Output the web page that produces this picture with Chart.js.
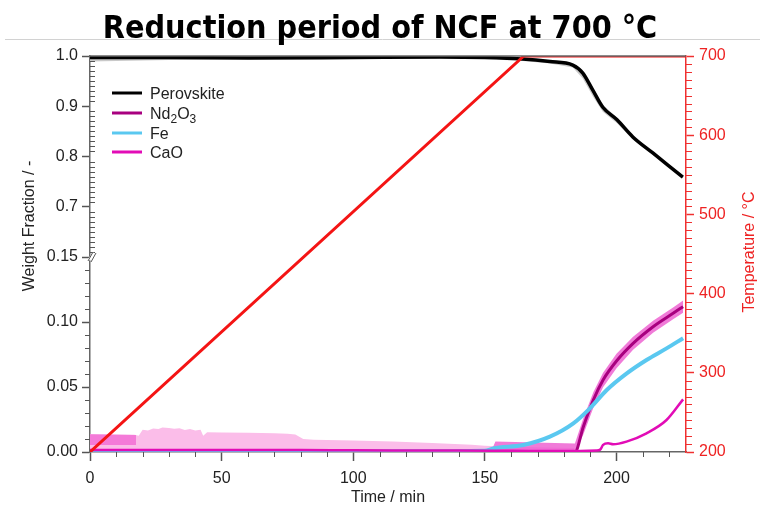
<!DOCTYPE html>
<html>
<head>
<meta charset="utf-8">
<title>Reduction period of NCF at 700 °C</title>
<script src="https://cdn.jsdelivr.net/npm/chart.js@4.4.1/dist/chart.umd.min.js"></script>
<style>
  html, body { margin: 0; padding: 0; background: #fff; }
  canvas { display: block; }
</style>
</head>
<body>
<canvas id="chart" width="760" height="507"></canvas>
<script>
/* ── Data (time in min) ── */

const X_MAX = 226.4;

// furnace temperature, right axis (°C)
const tempTime = [0, 164.8, 226.4];
const tempVals = [200, 700, 700];

// perovskite weight fraction (upper panel)
const perovTime = [0, 30, 60, 100, 132.9, 150, 164.4, 174.7, 183.4, 187.2, 191.0, 194.8, 200.2, 206.2, 213.8, 219.5, 225.2];
const perovVals = [0.997, 0.997, 0.996, 0.997, 0.998, 0.997, 0.994, 0.989, 0.982, 0.966, 0.932, 0.898, 0.873, 0.839, 0.807, 0.783, 0.759];
const perovLow  = [0.989, 0.992, 0.994, 0.995, 0.995, 0.994, 0.990, 0.985, 0.977, 0.955, 0.920, 0.889, 0.866, 0.834, 0.803, 0.780, 0.756];
const perovHigh = [0.999, 0.999, 0.998, 0.999, 1.000, 0.999, 0.996, 0.991, 0.985, 0.972, 0.938, 0.903, 0.877, 0.842, 0.810, 0.786, 0.762];

// Nd2O3
const ndTime = [0, 100, 184.2, 187.4, 191.2, 194.9, 200.0, 206.3, 213.9, 221.5, 225.3];
const ndVals = [0, 0, 0, 0.0195, 0.040, 0.0554, 0.070, 0.0836, 0.0964, 0.1067, 0.1118];
const ndBandTime = [152.5, 154, 184.2, 187.4, 191.2, 194.9, 200.0, 206.3, 213.9, 221.5, 225.3];
const ndBandHigh = [0.001, 0.008, 0.0065, 0.026, 0.046, 0.061, 0.0755, 0.0886, 0.1010, 0.1112, 0.1165];
const ndBandLow  = [0.0005, 0.0005, 0.0005, 0.0135, 0.034, 0.0498, 0.0645, 0.0786, 0.0918, 0.1022, 0.1071];

// Fe
const feTime = [0, 80, 120, 150, 153.2, 164.6, 174.7, 183.6, 189.9, 196.3, 203.9, 211.4, 219.0, 225.3];
const feVals = [0.0004, 0.0004, 0.0005, 0.0009, 0.0028, 0.0054, 0.0118, 0.022, 0.0336, 0.0477, 0.0605, 0.0708, 0.0797, 0.0875];

// CaO
const caoTime = [0, 20, 40, 60, 80, 100, 120, 140, 160, 180, 192.4, 193.8, 194.9, 196.8, 198.7, 203.8, 211.4, 219.0, 225.3];
const caoVals = [0.0015, 0.0016, 0.0016, 0.0015, 0.0016, 0.0013, 0.0012, 0.0011, 0.0009, 0.0007, 0.0012, 0.0018, 0.0054, 0.0067, 0.0060, 0.0080, 0.0144, 0.0246, 0.0405];

// uncertainty of the minor phases before the reduction starts
const paleTime = [0, 17, 18.5, 20, 22, 24, 26, 27.5, 30, 32, 34, 36, 38, 40, 42, 43, 44.5, 50, 60, 70, 75, 78, 81, 85, 100, 115, 130, 145, 150, 160, 184];
const paleVals = [0.0136, 0.0133, 0.0125, 0.0172, 0.0165, 0.0180, 0.0176, 0.0188, 0.0185, 0.0178, 0.0182, 0.0170, 0.0176, 0.0165, 0.0172, 0.0125, 0.0152, 0.0150, 0.0148, 0.0145, 0.0140, 0.0135, 0.0100, 0.0095, 0.0088, 0.0080, 0.0070, 0.0055, 0.0048, 0.0040, 0.0030];
const earlyTime = [0, 17.5];
const earlyHigh = [0.0136, 0.0131];
const earlyLow  = [0.0054, 0.0054];

/* ── Helpers ── */

const pts = (xs, ys) => xs.map((x, i) => ({ x, y: ys[i] }));

const FONT = "'Liberation Sans', Arial, sans-serif";

function lineSet(label, xs, ys, color, width, axis, order, extra) {
    return Object.assign({
        label,
        data: pts(xs, ys),
        borderColor: color,
        backgroundColor: color,
        borderWidth: width,
        pointRadius: 0,
        fill: false,
        yAxisID: axis,
        order,
        cubicInterpolationMode: 'monotone',
    }, extra || {});
}

function bandSet(xs, ys, color, axis, order, fill) {
    return {
        data: pts(xs, ys),
        borderWidth: 0,
        borderColor: 'transparent',
        backgroundColor: color,
        pointRadius: 0,
        fill,
        yAxisID: axis,
        order,
        tension: 0,
    };
}

/* ── Decorations: title, axis titles, legend, minor ticks, frame ── */

const decor = {
    id: 'decor',
    beforeDraw(chart) {
        const ctx = chart.ctx;
        ctx.save();
        ctx.fillStyle = '#fff';
        ctx.fillRect(0, 0, chart.width, chart.height);
        ctx.strokeStyle = '#d2d2d2';
        ctx.lineWidth = 1;
        ctx.beginPath();
        ctx.moveTo(5, 39.5);
        ctx.lineTo(chart.width, 39.5);
        ctx.stroke();
        ctx.restore();
    },
    afterDraw(chart) {
        const { ctx, chartArea: a, scales } = chart;
        const { x, yTop, yBot, yT } = scales;
        ctx.save();

        // title
        ctx.fillStyle = '#000';
        ctx.font = "bold 32px 'DejaVu Sans Condensed', 'DejaVu Sans', sans-serif";
        ctx.textAlign = 'center';
        ctx.textBaseline = 'alphabetic';
        ctx.fillText('Reduction period of NCF at 700 °C', 380, 38);

        // top frame
        ctx.strokeStyle = '#666';
        ctx.lineWidth = 1.5;
        ctx.beginPath();
        ctx.moveTo(a.left, a.top);
        ctx.lineTo(a.right, a.top);
        ctx.stroke();

        // minor ticks
        const tick = (x1, y1, x2, y2) => { ctx.moveTo(x1, y1); ctx.lineTo(x2, y2); };
        ctx.lineWidth = 1;
        ctx.strokeStyle = '#555';
        ctx.beginPath();
        for (let v = 10; v < X_MAX; v += 10) {
            if (v % 50 === 0) continue;
            const px = Math.round(x.getPixelForValue(v)) + 0.5;
            tick(px, a.bottom, px, a.bottom + 5);
        }
        for (let i = 61; i < 100; i++) {
            if (i % 10 === 0) continue;
            const py = Math.round(yTop.getPixelForValue(i / 100)) + 0.5;
            tick(a.left, py, a.left + 5, py);
        }
        for (let i = 1; i < 15; i++) {
            if (i % 5 === 0) continue;
            const py = Math.round(yBot.getPixelForValue(i / 100)) + 0.5;
            tick(a.left - 5, py, a.left, py);
        }
        ctx.stroke();
        ctx.strokeStyle = '#f03030';
        ctx.beginPath();
        for (let v = 210; v < 700; v += 10) {
            if (v % 100 === 0) continue;
            const py = Math.round(yT.getPixelForValue(v)) + 0.5;
            tick(a.right, py, a.right + 6, py);
        }
        ctx.stroke();

        // axis break
        const by = yBot.top;
        ctx.strokeStyle = '#fff';
        ctx.lineWidth = 3;
        ctx.beginPath();
        tick(a.left - 1, by + 3, a.left + 4, by - 4);
        ctx.stroke();
        ctx.strokeStyle = '#555';
        ctx.lineWidth = 1;
        ctx.beginPath();
        tick(a.left - 2, by + 4, a.left + 3, by - 5);
        tick(a.left + 1, by + 5, a.left + 6, by - 4);
        ctx.stroke();

        // axis titles
        ctx.font = '16px ' + FONT;
        ctx.textBaseline = 'middle';
        ctx.fillStyle = '#222';
        ctx.fillText('Time / min', 388, 498);
        ctx.save();
        ctx.translate(30, 226);
        ctx.rotate(-Math.PI / 2);
        ctx.fillText('Weight Fraction / -', 0, 0);
        ctx.restore();
        ctx.save();
        ctx.fillStyle = '#ee2222';
        ctx.translate(750, 252);
        ctx.rotate(-Math.PI / 2);
        ctx.fillText('Temperature / °C', 0, 0);
        ctx.restore();

        // legend
        const rows = [
            { color: '#000000', parts: [['Perovskite', 0]], y: 93 },
            { color: '#a8007f', parts: [['Nd', 0], ['2', 1], ['O', 0], ['3', 1]], y: 113 },
            { color: '#5ac8f0', parts: [['Fe', 0]], y: 133 },
            { color: '#e20cb6', parts: [['CaO', 0]], y: 152 },
        ];
        ctx.textAlign = 'left';
        ctx.textBaseline = 'alphabetic';
        rows.forEach(r => {
            ctx.strokeStyle = r.color;
            ctx.lineWidth = 3;
            ctx.beginPath();
            ctx.moveTo(112, r.y);
            ctx.lineTo(142, r.y);
            ctx.stroke();
            ctx.fillStyle = '#222';
            let tx = 150;
            r.parts.forEach(([s, sub]) => {
                ctx.font = (sub ? '12px ' : '16px ') + FONT;
                ctx.fillText(s, tx, r.y + 6 + (sub ? 4 : 0));
                tx += ctx.measureText(s).width;
            });
        });

        ctx.restore();
    },
};

/* ── Chart ── */

const axisFont = { family: FONT, size: 16 };

new Chart(document.getElementById('chart').getContext('2d'), {
    type: 'line',
    data: {
        datasets: [
            lineSet('Temperature', tempTime, tempVals, '#f41414', 3, 'yT', 1, { cubicInterpolationMode: 'default', tension: 0 }),
            lineSet('Perovskite', perovTime, perovVals, '#000000', 3.5, 'yTop', 2),
            lineSet('CaO', caoTime, caoVals, '#e20cb6', 2.5, 'yBot', 3),
            lineSet('Fe', feTime, feVals, '#5ac8f0', 4, 'yBot', 4),
            lineSet('Nd2O3', ndTime, ndVals, '#a8007f', 3, 'yBot', 5),
            bandSet(perovTime, perovHigh, '#c9c9c9', 'yTop', 8, '+1'),
            bandSet(perovTime, perovLow, '#c9c9c9', 'yTop', 8, false),
            bandSet(ndBandTime, ndBandHigh, 'rgba(236, 90, 206, 0.8)', 'yBot', 8, '+1'),
            bandSet(ndBandTime, ndBandLow, 'rgba(236, 90, 206, 0.8)', 'yBot', 8, false),
            bandSet(earlyTime, earlyHigh, '#f47ad8', 'yBot', 9, '+1'),
            bandSet(earlyTime, earlyLow, '#f47ad8', 'yBot', 9, false),
            bandSet(paleTime, paleVals, '#fbbde9', 'yBot', 10, 'origin'),
        ],
    },
    options: {
        responsive: false,
        animation: false,
        devicePixelRatio: 1,
        layout: { padding: { top: 56, left: 0, right: 0, bottom: 0 } },
        plugins: { legend: { display: false }, tooltip: { enabled: false } },
        scales: {
            x: {
                type: 'linear',
                position: 'bottom',
                min: 0,
                max: X_MAX,
                afterFit: s => { s.height = 55; },
                ticks: { stepSize: 50, includeBounds: false, font: axisFont, color: '#222', padding: 8, maxRotation: 0 },
                grid: { drawOnChartArea: false, tickLength: 9, tickColor: '#555', tickWidth: 1.5 },
                border: { color: '#666', width: 1.5 },
            },
            // the lower panel is listed first so the stacked layout puts it at the bottom
            yBot: {
                type: 'linear',
                position: 'left',
                stack: 'wf',
                stackWeight: 195,
                min: 0,
                max: 0.15,
                afterFit: s => { s.width = 90; },
                ticks: { stepSize: 0.05, font: axisFont, color: '#222', padding: 4, callback: v => v.toFixed(2) },
                grid: { drawOnChartArea: false, tickLength: 8, tickColor: '#555', tickWidth: 1.5 },
                border: { color: '#666', width: 1.5 },
            },
            yTop: {
                type: 'linear',
                position: 'left',
                stack: 'wf',
                stackWeight: 201,
                min: 0.6,
                max: 1.0,
                afterFit: s => { s.width = 90; },
                afterBuildTicks: s => { s.ticks = s.ticks.filter(t => t.value > 0.65); },
                ticks: { stepSize: 0.1, font: axisFont, color: '#222', padding: 4, callback: v => v.toFixed(1) },
                grid: { drawOnChartArea: false, tickLength: 8, tickColor: '#555', tickWidth: 1.5 },
                border: { color: '#666', width: 1.5 },
            },
            yT: {
                type: 'linear',
                position: 'right',
                min: 200,
                max: 700,
                afterFit: s => { s.width = 74; },
                ticks: { stepSize: 100, font: axisFont, color: '#ee2222', padding: 5 },
                grid: { drawOnChartArea: false, tickLength: 8, tickColor: '#f03030', tickWidth: 1.5 },
                border: { color: '#f03030', width: 1.5 },
            },
        },
    },
    plugins: [decor],
});
</script>
</body>
</html>
